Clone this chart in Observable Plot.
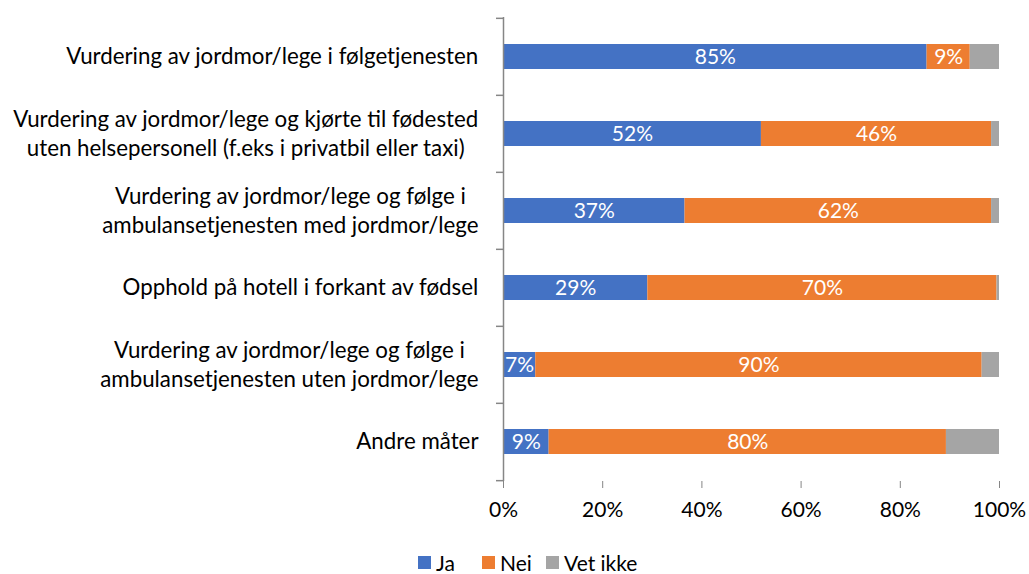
<!DOCTYPE html>
<html>
<head>
<meta charset="utf-8">
<script src="https://cdn.jsdelivr.net/npm/d3@7"></script>
<script src="https://cdn.jsdelivr.net/npm/@observablehq/plot@0.6"></script>
<style>
  body { margin: 0; background: #fff; font-family: Lato, "Open Sans", sans-serif; overflow: hidden; }
  #legend { position: relative; height: 38px; font-size: 21px; color: #000; }
  #legend span.item { position: absolute; top: 16px; display: flex; align-items: center; gap: 5px; line-height: 21px; height: 21px; }
  #legend span.sw { display: inline-block; width: 13px; height: 13px; }
</style>
</head>
<body>
<div id="chart"></div>
<div id="legend"></div>
<script>
const categories = [
  "Vurdering av jordmor/lege i følgetjenesten",
  "Vurdering av jordmor/lege og kjørte til fødested\nuten helsepersonell (f.eks i privatbil eller taxi)",
  "Vurdering av jordmor/lege og følge i\nambulansetjenesten med jordmor/lege",
  "Opphold på hotell i forkant av fødsel",
  "Vurdering av jordmor/lege og følge i\nambulansetjenesten uten jordmor/lege",
  "Andre måter"
];
const series = ["Ja", "Nei", "Vet ikke"];
const colors = ["#4472C4", "#ED7D31", "#A5A5A5"];
const ja = [85.4, 52.0, 36.6, 29.1, 6.5, 9.2];
const nei = [8.7, 46.4, 61.8, 70.4, 90.0, 80.1];
const vetIkke = [5.9, 1.6, 1.6, 0.5, 3.5, 10.7];
const xTicks = [0, 20, 40, 60, 80, 100];

const valuesBySeries = [ja, nei, vetIkke];
const data = [];
series.forEach((s, si) => categories.forEach((c, ci) => {
  data.push({cat: c, series: s, value: valuesBySeries[si][ci]});
}));

const W = 1029, H = 536, mTop = 17, mBottom = 55, mLeft = 503, mRight = 30;
const step = (H - mTop - mBottom) / categories.length;
const labelSize = 22.3, tickSize = 21, barLabelSize = 21;
const fontFamily = "Lato, 'Open Sans', sans-serif";

const ctx = document.createElement("canvas").getContext("2d");
ctx.font = `${labelSize}px Lato`;
const labelMarks = categories.map(c => {
  const w = Math.max(...c.split("\n").map(l => ctx.measureText(l).width));
  return Plot.text([c], {
    y: d => d, text: d => d, frameAnchor: "left", textAnchor: "middle",
    dx: -(25 + w / 2), dy: -2, lineHeight: 1.31, fill: "#000", fontSize: labelSize
  });
});

const axisColor = "#868686";
const chart = Plot.plot({
  width: W, height: H,
  marginTop: mTop, marginBottom: mBottom, marginLeft: mLeft, marginRight: mRight,
  style: {fontFamily, fontSize: tickSize + "px", color: "#000", background: "#fff"},
  x: {domain: [0, 100], ticks: xTicks, tickFormat: d => d + "%", label: null},
  y: {domain: categories, paddingInner: 0.68, paddingOuter: 0.34, axis: null},
  color: {domain: series, range: colors},
  marks: [
    Plot.barX(data, Plot.stackX({x: "value", y: "cat", fill: "series", order: series})),
    Plot.text(data, Plot.stackX({
      x: "value", y: "cat", z: "series", order: series,
      text: d => d.series === "Vet ikke" ? "" : Math.round(d.value) + "%",
      fill: "#fff", fontSize: barLabelSize
    })),
    Plot.ruleY(categories, {y: d => d, x1: 0, x2: 0, insetLeft: -7, dy: -step / 2, stroke: axisColor, strokeWidth: 1.5}),
    Plot.ruleY([categories[categories.length - 1]], {y: d => d, x1: 0, x2: 0, insetLeft: -7, dy: step / 2, stroke: axisColor, strokeWidth: 1.5}),
    Plot.ruleX([0], {stroke: axisColor, strokeWidth: 1.5}),
    Plot.ruleY([0], {frameAnchor: "bottom", stroke: axisColor, strokeWidth: 1.5, x1: 0, x2: 100}),
    Plot.axisX({ticks: xTicks, tickFormat: d => d + "%", tickSize: 7, tickPadding: 14, stroke: axisColor, fill: "#000", fontSize: tickSize, label: null}),
    ...labelMarks
  ]
});
document.getElementById("chart").appendChild(chart);

const legend = document.getElementById("legend");
const legendX = [418, 482, 546];
series.forEach((s, i) => {
  const item = document.createElement("span");
  item.className = "item";
  item.style.left = legendX[i] + "px";
  item.innerHTML = `<span class="sw" style="background:${colors[i]}"></span>${s}`;
  legend.appendChild(item);
});
</script>
</body>
</html>
